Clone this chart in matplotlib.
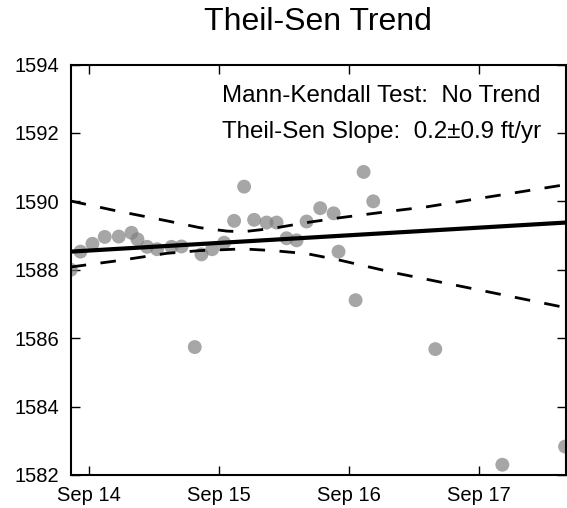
import numpy as np
import pandas as pd
import matplotlib
matplotlib.use("Agg")
import matplotlib.pyplot as plt
import matplotlib.dates as mdates

plt.rcParams['font.family'] = ['Liberation Sans', 'DejaVu Sans']

# Observations: offset in days from Sep 14 00:00 and water level (ft)
obs_days = [-0.140, -0.066, 0.026, 0.121, 0.229, 0.327, 0.373, 0.447, 0.524,
            0.635, 0.712, 0.814, 0.866, 0.948, 1.040, 1.117, 1.194, 1.271,
            1.367, 1.444, 1.521, 1.598, 1.675, 1.780, 1.883, 1.921, 2.052,
            2.114, 2.188, 2.666, 3.182, 3.665]
obs_level = [1588.00, 1588.53, 1588.76, 1588.96, 1588.97, 1589.08, 1588.89,
             1588.67, 1588.60, 1588.67, 1588.68, 1585.74, 1588.45, 1588.60,
             1588.79, 1589.43, 1590.43, 1589.46, 1589.38, 1589.38, 1588.92,
             1588.86, 1589.41, 1589.80, 1589.65, 1588.53, 1587.11, 1590.86,
             1590.00, 1585.68, 1582.30, 1582.83]

# Trend line and confidence band samples
trend_days = [-0.141, 3.672]
trend_level = [1588.53, 1589.38]
band_days = [-0.141, 0.213, 0.599, 0.853, 1.061, 1.184, 1.415, 1.677,
             1.931, 2.340, 2.601, 3.672]
band_upper = [1590.01, 1589.72, 1589.43, 1589.23, 1589.13, 1589.11, 1589.21,
              1589.38, 1589.52, 1589.72, 1589.84, 1590.49]
band_lower = [1588.08, 1588.26, 1588.48, 1588.56, 1588.59, 1588.61, 1588.56,
              1588.47, 1588.28, 1587.92, 1587.72, 1586.89]

y_ticks = [1582, 1584, 1586, 1588, 1590, 1592, 1594]
title = "Theil-Sen Trend"
note_lines = ["Mann-Kendall Test:  No Trend", "Theil-Sen Slope:  0.2\u00b10.9 ft/yr"]

base = pd.Timestamp("2014-09-14")
def to_dt(days):
    return base + pd.to_timedelta(np.asarray(days), unit="D")

fig = plt.figure(figsize=(5.67, 5.08), dpi=100)
ax = fig.add_axes([0.1247, 0.065, 0.8735, 0.808])

ax.scatter(to_dt(obs_days), obs_level, s=100, color='gray', alpha=0.7,
           edgecolors='none', zorder=2)
ax.plot(to_dt(trend_days), trend_level, color='black', lw=3, zorder=3)
ax.plot(to_dt(band_days), band_upper, color='black', lw=2,
        dashes=(5.6, 5.2), zorder=3)
ax.plot(to_dt(band_days), band_lower, color='black', lw=2,
        dashes=(5.6, 5.2), zorder=3)

ax.set_xlim(to_dt([-0.141])[0], to_dt([3.672])[0])
ax.set_ylim(1582, 1594)
ax.set_yticks(y_ticks)
ax.xaxis.set_major_locator(mdates.DayLocator())
ax.xaxis.set_major_formatter(mdates.DateFormatter('%b %d'))

for s in ax.spines.values():
    s.set_linewidth(1.5)
ax.tick_params(direction='in', length=6.5, width=1, top=True, right=True,
               labelsize=14.5)
ax.tick_params(axis='y', pad=8)
ax.tick_params(axis='x', pad=8)

ax.set_title(title, fontsize=23, pad=25)
ax.text(0.9495, 0.909, note_lines[0], transform=ax.transAxes, ha='right',
        va='baseline', fontsize=17.4)
ax.text(0.9495, 0.821, note_lines[1], transform=ax.transAxes, ha='right',
        va='baseline', fontsize=17.4)

fig.savefig("out.png", dpi=100)
